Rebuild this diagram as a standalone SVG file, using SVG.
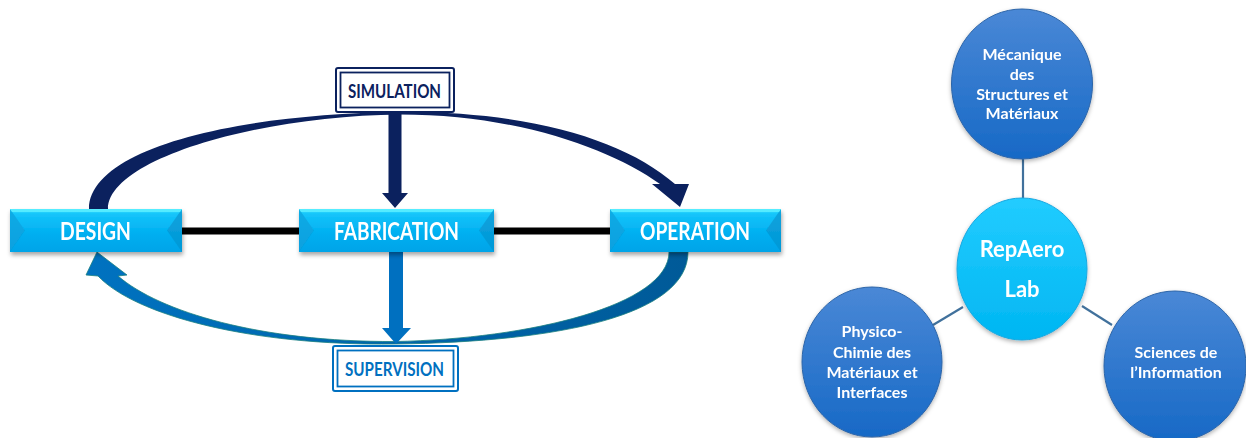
<svg xmlns="http://www.w3.org/2000/svg" width="1246" height="438" viewBox="0 0 1246 438">
<defs>
<style>
.btxt{font-family:Lato,"Liberation Sans",sans-serif;font-weight:bold;fill:#fff;font-size:24px;text-anchor:middle}
.lbl{font-family:Lato,"Liberation Sans",sans-serif;font-weight:bold;font-size:19px;text-anchor:middle}
.ctxt{font-family:Lato,"Liberation Sans",sans-serif;font-weight:bold;fill:#fff;font-size:16px;text-anchor:middle}
.face{fill:url(#gBtn)}
.bl{fill:#0a9fdc;opacity:0.7}
.br{fill:#0894d0;opacity:0.7}
.bt{fill:#5ff0ff;opacity:0.8}
.blue{fill:url(#gBlue);stroke:#2d65a8;stroke-width:1}
.cyan{fill:url(#gCyan);stroke:#1aa8e0;stroke-width:1}
.link{stroke:#41719c;stroke-width:2.2}
</style>
<linearGradient id="gBtn" x1="0" y1="0" x2="0" y2="1">
<stop offset="0" stop-color="#3ae4ff"/>
<stop offset="0.12" stop-color="#14c4fa"/>
<stop offset="0.6" stop-color="#00aef0"/>
<stop offset="1" stop-color="#00a4e8"/>
</linearGradient>
<linearGradient id="gBlue" x1="0" y1="0" x2="0" y2="1">
<stop offset="0" stop-color="#4a88d6"/>
<stop offset="1" stop-color="#1769c6"/>
</linearGradient>
<linearGradient id="gCyan" x1="0" y1="0" x2="0" y2="1">
<stop offset="0" stop-color="#22ccff"/>
<stop offset="1" stop-color="#00b6f2"/>
</linearGradient>
<linearGradient id="gBot" x1="1" y1="0" x2="0" y2="0">
<stop offset="0" stop-color="#005a98"/>
<stop offset="1" stop-color="#0072c0"/>
</linearGradient>
<filter id="sh" x="-10%" y="-20%" width="120%" height="150%">
<feDropShadow dx="1" dy="3" stdDeviation="2" flood-color="#000" flood-opacity="0.35"/>
</filter>
<filter id="csh" x="-10%" y="-10%" width="120%" height="120%">
<feDropShadow dx="0" dy="2" stdDeviation="2" flood-color="#000" flood-opacity="0.3"/>
</filter>
</defs>
<rect width="1246" height="438" fill="#fff"/>

<g id="connectors">
<line x1="182" y1="231" x2="299" y2="231" stroke="#000" stroke-width="7"/>
<line x1="494" y1="231" x2="610" y2="231" stroke="#000" stroke-width="7"/>
<path d="M 89 209 C 89 150 230 114 400 112 C 530 111 625 140 675 184 L 689 184 L 680 207 L 652 184 L 660 184 C 612 150 520 114.5 400 114.5 C 255 116 108 160 108 209 Z" fill="#0b215e"/>
<path d="M 669 252 L 688 252 C 688 315 560 342 395 344 C 250 346 135 315 98 276 L 86 275 L 97 252 L 127 275 L 118 276 C 160 312 260 342 395 341.5 C 530 339 669 305 669 252 Z" fill="url(#gBot)" stroke="#1a8080" stroke-width="0.8"/>
<path d="M 388.5 112 L 401.5 112 L 401.5 193 L 408 193 L 395 208 L 382 193 L 388.5 193 Z" fill="#0b215e"/>
<path d="M 389 252 L 403 252 L 403 328 L 411 328 L 396 344 L 382 328 L 389 328 Z" fill="#0070c0"/>
<line class="link" x1="1023" y1="159" x2="1023" y2="199"/>
<line class="link" x1="963" y1="307" x2="933" y2="325"/>
<line class="link" x1="1082" y1="306" x2="1112" y2="325"/>
</g>

<g id="design" filter="url(#sh)">
<rect class="face" x="10" y="209" width="172" height="43"/>
<polygon class="bl" points="10,209 25,230.5 10,252"/>
<polygon class="br" points="182,209 167,230.5 182,252"/>
<polygon class="bt" points="10,209 182,209 180,212 12,212"/>
<text class="btxt" x="95.5" y="240" textLength="71" lengthAdjust="spacingAndGlyphs">DESIGN</text>
</g>
<g id="fabrication" filter="url(#sh)">
<rect class="face" x="299" y="209" width="195" height="43"/>
<polygon class="bl" points="299,209 314,230.5 299,252"/>
<polygon class="br" points="494,209 479,230.5 494,252"/>
<polygon class="bt" points="299,209 494,209 492,212 301,212"/>
<text class="btxt" x="396.5" y="240" textLength="125" lengthAdjust="spacingAndGlyphs">FABRICATION</text>
</g>
<g id="operation" filter="url(#sh)">
<rect class="face" x="610" y="209" width="171" height="43"/>
<polygon class="bl" points="610,209 625,230.5 610,252"/>
<polygon class="br" points="781,209 766,230.5 781,252"/>
<polygon class="bt" points="610,209 781,209 779,212 612,212"/>
<text class="btxt" x="695" y="240" textLength="110" lengthAdjust="spacingAndGlyphs">OPERATION</text>
</g>

<g id="simulation">
<rect x="336" y="68" width="118" height="44" rx="2" fill="#fff" stroke="#0b215e" stroke-width="2"/>
<rect x="340.5" y="72.5" width="109" height="35" fill="none" stroke="#0b215e" stroke-width="1.8"/>
<text class="lbl" x="394.5" y="98" fill="#0b215e" textLength="93" lengthAdjust="spacingAndGlyphs">SIMULATION</text>
</g>
<g id="supervision">
<rect x="333" y="346" width="125" height="45" rx="2" fill="#fff" stroke="#0070c0" stroke-width="2"/>
<rect x="337.5" y="350.5" width="116" height="36" fill="none" stroke="#0070c0" stroke-width="1.8"/>
<text class="lbl" x="394.5" y="376" fill="#0070c0" textLength="99" lengthAdjust="spacingAndGlyphs">SUPERVISION</text>
</g>

<g id="mecanique" filter="url(#csh)">
<ellipse class="blue" cx="1022" cy="84" rx="70.5" ry="75"/>
<text class="ctxt" x="1022" y="60">Mécanique</text>
<text class="ctxt" x="1022" y="80">des</text>
<text class="ctxt" x="1022" y="100">Structures et</text>
<text class="ctxt" x="1022" y="119">Matériaux</text>
</g>
<g id="repaero" filter="url(#csh)">
<ellipse class="cyan" cx="1022" cy="269" rx="65" ry="71"/>
<text class="ctxt" x="1022" y="257" style="font-size:22px">RepAero</text>
<text class="ctxt" x="1022" y="297" style="font-size:22px">Lab</text>
</g>
<g id="physico" filter="url(#csh)">
<ellipse class="blue" cx="872" cy="362" rx="70" ry="75"/>
<text class="ctxt" x="872" y="337">Physico-</text>
<text class="ctxt" x="872" y="358">Chimie des</text>
<text class="ctxt" x="872" y="378">Matériaux et</text>
<text class="ctxt" x="872" y="398">Interfaces</text>
</g>
<g id="sciences" filter="url(#csh)">
<ellipse class="blue" cx="1175" cy="366" rx="71" ry="75"/>
<text class="ctxt" x="1176" y="358">Sciences de</text>
<text class="ctxt" x="1176" y="378">l’Information</text>
</g>
</svg>
